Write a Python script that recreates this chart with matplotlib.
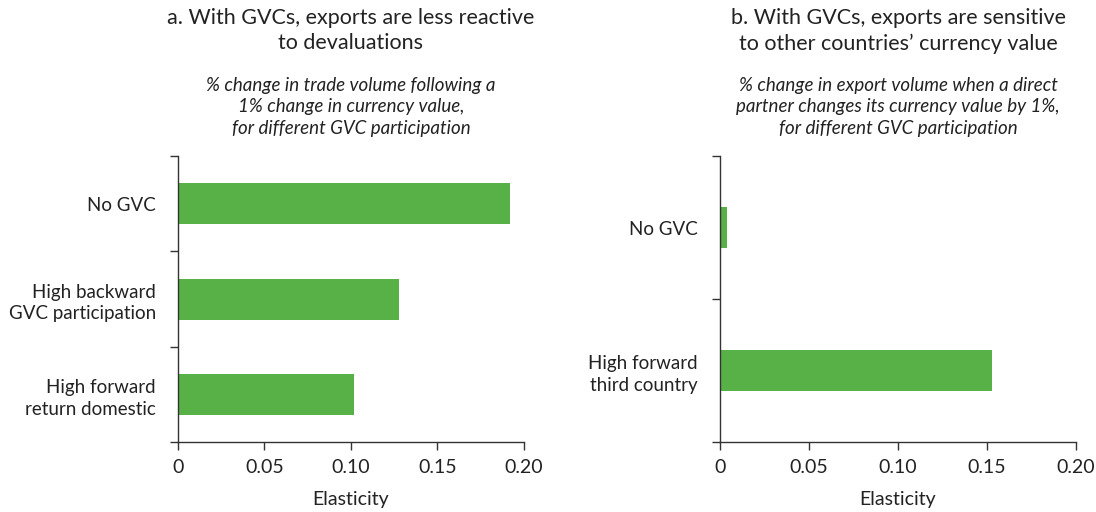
import numpy as np
import matplotlib.pyplot as plt

# data
cats_a = ['No GVC', 'High backward\nGVC participation', 'High forward\nreturn domestic']
vals_a = [0.192, 0.128, 0.102]
cats_b = ['No GVC', 'High forward\nthird country']
vals_b = [0.004, 0.153]
xticks = [0, 0.05, 0.10, 0.15, 0.20]
xticklabels = ['0', '0.05', '0.10', '0.15', '0.20']

GREEN = '#58B147'
TXT = '#222222'
FONT = 'Lato'

plt.rcParams['font.family'] = [FONT, 'DejaVu Sans']
plt.rcParams['text.color'] = TXT

fig = plt.figure(figsize=(10.96, 5.12), dpi=100)
bottom, top = 0.1367, 0.695
ax1 = fig.add_axes([0.1624, bottom, 0.478 - 0.1624, top - bottom])
ax2 = fig.add_axes([0.657, bottom, 0.9818 - 0.657, top - bottom])


def draw(ax, cats, vals, bar_h, title, sub):
    n = len(cats)
    pos = np.arange(n)
    ax.barh(pos, vals, height=bar_h, color=GREEN, zorder=2)
    ax.set_ylim(n - 0.5, -0.5)
    ax.set_xlim(0, 0.20)
    ax.set_yticks(np.arange(n + 1) - 0.5)
    ax.set_yticklabels([])
    ax.set_yticks(pos, minor=True)
    ax.set_yticklabels(cats, minor=True, fontsize=13.5, color=TXT, linespacing=1.35)
    ax.tick_params(axis='y', which='minor', length=0, pad=16)
    ax.tick_params(axis='y', which='major', length=6, width=1, color='#333333')
    ax.set_xticks(xticks)
    ax.set_xticklabels(xticklabels, fontsize=14, color=TXT)
    ax.tick_params(axis='x', length=6, width=1, color='#333333', pad=6)
    for s in ['top', 'right']:
        ax.spines[s].set_visible(False)
    for s in ['left', 'bottom']:
        ax.spines[s].set_color('#333333')
        ax.spines[s].set_linewidth(1)
    ax.set_xlabel('Elasticity', fontsize=14, color=TXT, labelpad=11)
    ax.text(0.5, 1.0 + 148 / 286, title, transform=ax.transAxes, ha='center', va='top',
            fontsize=15.5, linespacing=1.3)
    ax.text(0.5, 1.0 + 79 / 286, sub, transform=ax.transAxes, ha='center', va='top',
            fontsize=13.5, style='italic', linespacing=1.3)


draw(ax1, cats_a, vals_a, 0.43,
     'a. With GVCs, exports are less reactive\nto devaluations',
     '% change in trade volume following a\n1% change in currency value,\nfor different GVC participation')
draw(ax2, cats_b, vals_b, 0.29,
     'b. With GVCs, exports are sensitive\nto other countries\u2019 currency value',
     '% change in export volume when a direct\npartner changes its currency value by 1%,\nfor different GVC participation')

fig.savefig('out.png', dpi=100)
